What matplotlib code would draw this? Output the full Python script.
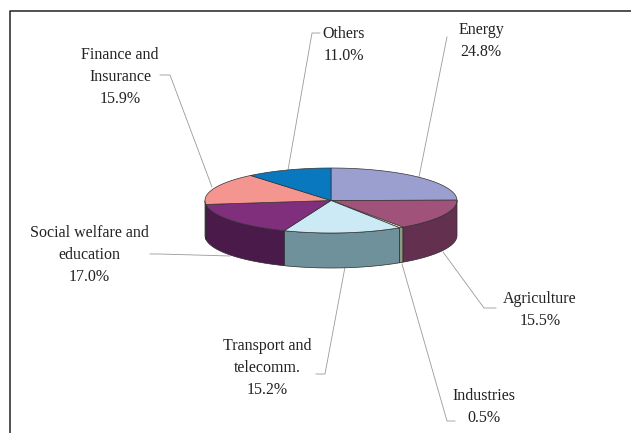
import numpy as np
import matplotlib
matplotlib.use('Agg')
import matplotlib.pyplot as plt

categories = ['Energy', 'Agriculture', 'Industries', 'Transport and\ntelecomm.',
              'Social welfare and\neducation', 'Finance and\nInsurance', 'Others']
shares = [24.8, 15.5, 0.5, 15.2, 17.0, 15.9, 11.0]

top_colors = ['#9A9FCF', '#A0527B', '#FBFBD0', '#CCEAF5', '#7F2F7B', '#F4958F', '#0A78BE']
side_colors = ['#5F6285', '#63304F', '#8E9A85', '#6E919B', '#4A1B4A', '#8F5552', '#074A75']

# label centres and leader lines, in image pixels
label_xy = [(481, 41), (540, 310), (484, 407), (267, 368), (89, 255), (120, 77), (344, 45)]
leaders = [
    [(447, 37), (419, 177)],
    [(443, 252), (484, 308), (496, 308)],
    [(402, 264), (447, 421), (455, 421)],
    [(345, 267), (325, 374), (316, 374)],
    [(230, 256), (160, 254), (150, 254)],
    [(212, 187), (170, 75), (160, 75)],
    [(288, 170), (312, 33), (320, 33)],
]

cx, cy = 331, 200.5
rx, ry = 126, 32.5
depth = 35

fig = plt.figure(figsize=(6.31, 4.33), dpi=100)
ax = fig.add_axes([0, 0, 1, 1])
ax.set_xlim(0, 631)
ax.set_ylim(433, 0)
ax.axis('off')

# frame has only top and left sides
ax.plot([10, 10, 631], [433, 11, 11], color='#222222', lw=1.1)

for pts in leaders:
    xs, ys = zip(*pts)
    ax.plot(xs, ys, color='#999999', lw=0.6, zorder=1)

# going clockwise from twelve o'clock
edges = 90 - np.cumsum([0] + shares) / sum(shares) * 360

for i in range(len(shares)):
    t = np.radians(np.linspace(edges[i], edges[i + 1], 80))
    x = cx + rx * np.cos(t)
    y = cy - ry * np.sin(t)

    # side wall, only the part on the front of the disc
    front = np.sin(t) <= 0
    if front.any():
        fx, fy = x[front], y[front]
        ax.fill(np.r_[fx, fx[::-1]], np.r_[fy, fy[::-1] + depth],
                color=side_colors[i], ec='#2a2a2a', lw=0.5, zorder=2)

    ax.fill(np.r_[cx, x], np.r_[cy, y], color=top_colors[i],
            ec='#333333', lw=0.5, zorder=3)

for name, val, (lx, ly) in zip(categories, shares, label_xy):
    ax.text(lx, ly, '%s\n%.1f%%' % (name, val), ha='center', va='center',
            family='Liberation Serif', fontsize=11.5, color='#222222',
            linespacing=1.5, zorder=4)

fig.savefig('out.png', dpi=100)
